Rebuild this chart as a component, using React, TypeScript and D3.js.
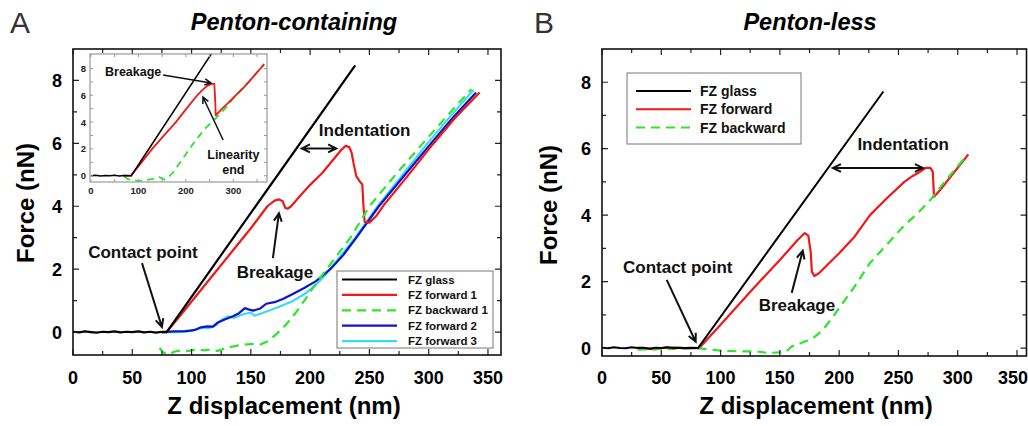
import * as d3 from "d3";

type Pt = [number, number];

const FONT = "'Liberation Sans', Arial, Helvetica, sans-serif";
const NARROW = "'Liberation Sans Narrow', 'Arial Narrow', 'Liberation Sans', Arial, sans-serif";

// ---------- panel A: penton-containing (Z nm, Force nN) ----------
const glassA: Pt[] = [
  [0, 0.01], [5, -0.01], [10, 0.02], [15, 0], [20, -0.02], [25, 0.01], [30, 0], [35, 0.02],
  [40, -0.01], [45, 0.01], [50, 0], [55, 0.02], [60, -0.01], [65, 0.01], [70, -0.02], [75, 0.01],
  [79, 0], [238, 8.48],
];
const forward1A: Pt[] = [
  [75, 0], [79, 0], [90, 0.5], [105, 1.2], [120, 1.9], [135, 2.6], [150, 3.3], [164, 4.0],
  [170, 4.18], [174, 4.22], [177, 4.15], [179, 3.95], [181, 3.92], [184, 4.0], [192, 4.35],
  [200, 4.68], [210, 5.05], [220, 5.5], [226, 5.78], [230, 5.92], [233, 5.88], [235, 5.7],
  [237, 5.3], [239, 4.95], [242, 4.78], [244, 4.7], [245, 4.0], [246, 3.5], [250, 3.48],
  [256, 3.7], [262, 4.03], [282, 4.95], [303, 5.95], [322, 6.8], [343, 7.62],
];
const backward1A: Pt[] = [
  [73, -0.5], [76, -0.65], [80, -0.72], [86, -0.62], [92, -0.58], [98, -0.6], [104, -0.55],
  [110, -0.58], [116, -0.56], [122, -0.6], [130, -0.5], [140, -0.42], [150, -0.38], [158, -0.4],
  [165, -0.28], [172, -0.05], [180, 0.25], [188, 0.62], [196, 1.05], [205, 1.55], [214, 2.0],
  [224, 2.5], [234, 3.0], [250, 4.0], [272, 5.0], [295, 6.0], [315, 6.85], [336, 7.72],
];
const forward2A: Pt[] = [
  [75, 0], [85, 0.02], [95, 0.03], [102, 0.06], [108, 0.15], [113, 0.18], [118, 0.17], [122, 0.3],
  [128, 0.4], [135, 0.5], [140, 0.6], [145, 0.76], [148, 0.72], [152, 0.68], [158, 0.75],
  [163, 0.9], [170, 0.95], [177, 1.05], [185, 1.2], [195, 1.4], [205, 1.62], [217, 2.0],
  [228, 2.45], [239, 3.0], [258, 4.0], [280, 5.0], [302, 6.0], [320, 6.8], [340, 7.62],
];
const forward3A: Pt[] = [
  [74, -0.02], [80, 0], [90, 0], [100, 0.04], [108, 0.12], [115, 0.13], [120, 0.2], [126, 0.4],
  [131, 0.5], [136, 0.45], [142, 0.55], [150, 0.62], [153, 0.52], [158, 0.58], [165, 0.68],
  [175, 0.82], [185, 0.98], [195, 1.2], [205, 1.5], [212, 1.78], [220, 2.15], [238, 3.0],
  [257, 4.0], [278, 5.0], [299, 6.0], [318, 6.85], [338, 7.7],
];

// inset of panel A
const insetGlass: Pt[] = [
  [0, 0], [10, 0.03], [20, -0.02], [30, 0.02], [40, 0], [50, 0.03], [60, -0.02], [70, 0.02],
  [80, 0], [85, 0], [252, 9.0], [262, 9.55],
];
const insetForward: Pt[] = [
  [68, 0], [84, 0], [100, 0.7], [129, 2.0], [155, 3.05], [179, 4.0], [200, 4.95], [224, 6.0],
  [235, 6.4], [245, 6.7], [254, 6.85], [260, 6.85], [262, 5.5], [263, 4.5], [275, 4.95],
  [290, 5.45], [305, 6.0], [320, 6.5], [335, 7.1], [350, 7.7], [365, 8.3],
];
const insetBackward: Pt[] = [
  [70, -0.05], [78, -0.25], [90, -0.35], [100, -0.38], [112, -0.35], [122, -0.3], [135, -0.2],
  [144, -0.12], [150, -0.2], [155, -0.3], [162, -0.15], [172, 0.2], [186, 0.9], [200, 1.6],
  [221, 2.66], [240, 3.5], [263, 4.28], [285, 5.1], [305, 6.0], [335, 7.1], [365, 8.35],
];

// ---------- panel B: penton-less ----------
const glassB: Pt[] = [
  [0, 0.01], [5, -0.01], [10, 0.02], [15, 0], [20, -0.01], [25, 0.02], [30, 0], [35, 0.01],
  [40, -0.02], [45, 0.01], [50, 0], [55, 0.02], [60, -0.01], [65, 0.01], [70, 0], [75, 0.01],
  [81, 0], [237.3, 7.72],
];
const forwardB: Pt[] = [
  [30, 0.01], [40, -0.02], [45, -0.04], [50, 0], [60, 0.02], [70, -0.01], [78, 0], [82, 0],
  [100, 0.7], [127, 1.77], [150, 2.65], [165, 3.25], [171, 3.46], [174, 3.38], [176, 2.9],
  [177, 2.3], [179, 2.17], [183, 2.25], [190, 2.5], [200, 2.85], [213, 3.35], [226, 4.0],
  [240, 4.5], [255, 5.0], [262, 5.18], [268, 5.3], [273, 5.42], [277, 5.42], [279, 5.3],
  [280, 4.55], [285, 4.75], [295, 5.2], [309, 5.83],
];
const backwardB: Pt[] = [
  [30, -0.05], [45, -0.03], [60, -0.02], [75, 0], [85, -0.02], [100, -0.08], [115, -0.1],
  [130, -0.1], [140, -0.15], [150, -0.13], [155, -0.12], [160, 0.05], [168, 0.15], [178, 0.3],
  [185, 0.5], [193, 0.85], [201, 1.25], [213, 1.85], [226, 2.56], [240, 3.1], [254, 3.66],
  [266, 4.05], [277, 4.46], [290, 5.05], [308, 5.81],
];

const legendA = ["FZ glass", "FZ forward 1", "FZ backward 1", "FZ forward 2", "FZ forward 3"];
const legendB = ["FZ glass", "FZ forward", "FZ backward"];
const xTickVals = [0, 50, 100, 150, 200, 250, 300, 350];
const yTickVals = [0, 2, 4, 6, 8];
const insetXTicks = [0, 100, 200, 300];
const insetYTicks = [0, 2, 4, 6, 8];

const C = {
  black: "#000000",
  red: "#f01818",
  green: "#2ee52e",
  blue: "#1212c8",
  cyan: "#36dcf2",
};

type Frame = { left: number; right: number; top: number; bottom: number };

function tickPath(f: Frame, x: any, y: any, xs: number[], ys: number[], len: number) {
  let d = "";
  xs.forEach((v) => {
    const px = x(v);
    d += `M${px},${f.bottom}v${-len}M${px},${f.top}v${len}`;
  });
  ys.forEach((v) => {
    const py = y(v);
    d += `M${f.left},${py}h${len}M${f.right},${py}h${-len}`;
  });
  return d;
}

function arrowPath(x1: number, y1: number, x2: number, y2: number, both = false, size = 9) {
  const head = (ax: number, ay: number, bx: number, by: number) => {
    const ang = Math.atan2(by - ay, bx - ax);
    const a1 = ang + Math.PI - 0.45;
    const a2 = ang + Math.PI + 0.45;
    return `M${bx + size * Math.cos(a1)},${by + size * Math.sin(a1)}L${bx},${by}L${bx + size * Math.cos(a2)},${by + size * Math.sin(a2)}`;
  };
  let d = `M${x1},${y1}L${x2},${y2}` + head(x1, y1, x2, y2);
  if (both) d += head(x2, y2, x1, y1);
  return d;
}

export default function App() {
  // frames (pixels)
  const fA: Frame = { left: 73, right: 501, top: 49, bottom: 355 };
  const fB: Frame = { left: 602, right: 1026.5, top: 49, bottom: 356 };
  const fI: Frame = { left: 90, right: 267, top: 54, bottom: 182 };

  const xA = d3.scaleLinear().domain([0, 361]).range([fA.left, fA.right]);
  const yA = d3.scaleLinear().domain([-0.73, 9]).range([fA.bottom, fA.top]);
  const xB = d3.scaleLinear().domain([0, 358]).range([fB.left, fB.right]);
  const yB = d3.scaleLinear().domain([-0.24, 9]).range([fB.bottom, fB.top]);
  const xI = d3.scaleLinear().domain([-2, 371]).range([fI.left, fI.right]);
  const yI = d3.scaleLinear().domain([-0.47, 9.08]).range([fI.bottom, fI.top]);

  const lineA = d3.line<Pt>().x((d) => xA(d[0])).y((d) => yA(d[1]));
  const lineB = d3.line<Pt>().x((d) => xB(d[0])).y((d) => yB(d[1]));
  const lineI = d3.line<Pt>().x((d) => xI(d[0])).y((d) => yI(d[1]));

  const majX = d3.range(0, 351, 50);
  const minX = d3.range(25, 351, 50);
  const majY = d3.range(0, 9, 2);
  const minY = d3.range(1, 9, 2);

  const seriesA = [
    { data: forward3A, color: C.cyan, dash: undefined },
    { data: forward2A, color: C.blue, dash: undefined },
    { data: forward1A, color: C.red, dash: undefined },
    { data: backward1A, color: C.green, dash: "9 6" },
    { data: glassA, color: C.black, dash: undefined },
  ];
  const legColorsA = [C.black, C.red, C.green, C.blue, C.cyan];
  const legColorsB = [C.black, C.red, C.green];

  const tickFont = { fontFamily: NARROW, fontWeight: 700, fontSize: 18, fill: "#000" } as const;
  const annFont = { fontFamily: FONT, fontWeight: 700, fontSize: 17, fill: "#111" } as const;

  const axisLabels = (f: Frame, x: any, y: any) => (
    <g>
      {xTickVals.map((v) => (
        <text key={"x" + v} x={Math.min(x(v), 1013)} y={384} textAnchor="middle" {...tickFont}>{v}</text>
      ))}
      {yTickVals.map((v) => (
        <text key={"y" + v} x={f.left - 11} y={y(v) + 6.5} textAnchor="end" {...tickFont}>{v}</text>
      ))}
    </g>
  );

  return (
    <svg width={1028} height={426} style={{ display: "block", position: "absolute", left: 0, top: 0, background: "#fff" }}>
      <defs>
        <clipPath id="clipA"><rect x={fA.left} y={fA.top} width={fA.right - fA.left} height={fA.bottom - fA.top} /></clipPath>
        <clipPath id="clipB"><rect x={fB.left} y={fB.top} width={fB.right - fB.left} height={fB.bottom - fB.top} /></clipPath>
        <clipPath id="clipI"><rect x={fI.left} y={fI.top} width={fI.right - fI.left} height={fI.bottom - fI.top} /></clipPath>
      </defs>
      <rect width={1028} height={426} fill="#fff" />

      {/* ===== Panel A ===== */}
      <text x={10} y={33} fontFamily={FONT} fontSize={30} fill="#333">A</text>
      <text x={294} y={30} textAnchor="middle" fontFamily={FONT} fontSize={23.5} fontWeight={700} fontStyle="italic">Penton-containing</text>
      <g clipPath="url(#clipA)">
        {seriesA.map((s, i) => (
          <path key={i} d={lineA(s.data) || ""} fill="none" stroke={s.color} strokeWidth={2.2} strokeDasharray={s.dash} strokeLinejoin="round" />
        ))}
      </g>
      <path d={tickPath(fA, xA, yA, majX, majY, 6) + tickPath(fA, xA, yA, minX, minY, 4)} stroke="#222" strokeWidth={1.2} fill="none" />
      <rect x={fA.left} y={fA.top} width={fA.right - fA.left} height={fA.bottom - fA.top} fill="none" stroke="#111" strokeWidth={1.6} />
      {axisLabels(fA, xA, yA)}
      <text x={284} y={414} textAnchor="middle" fontFamily={FONT} fontSize={24} fontWeight={700}>Z displacement (nm)</text>
      <text transform="translate(33.5,203) rotate(-90)" textAnchor="middle" fontFamily={FONT} fontSize={24} fontWeight={700}>Force (nN)</text>

      {/* annotations A */}
      <text x={xA(59)} y={yA(2.35)} textAnchor="middle" {...annFont}>Contact point</text>
      <path d={arrowPath(xA(58.2), yA(2.19), xA(75), yA(0.16))} stroke="#111" strokeWidth={2} fill="none" />
      <text x={xA(170.3)} y={yA(1.71)} textAnchor="middle" {...annFont}>Breakage</text>
      <path d={arrowPath(xA(168.6), yA(2.35), xA(173.7), yA(3.78))} stroke="#111" strokeWidth={2} fill="none" />
      <text x={xA(246)} y={yA(6.22)} textAnchor="middle" {...annFont}>Indentation</text>
      <path d={arrowPath(xA(193), yA(5.84), xA(222), yA(5.84), true)} stroke="#111" strokeWidth={2} fill="none" />

      {/* legend A */}
      <rect x={337} y={271} width={156} height={77} fill="#fff" stroke="#777" strokeWidth={1} />
      {legendA.map((name, i) => (
        <g key={name}>
          <line x1={342} x2={397} y1={279.5 + i * 15.4} y2={279.5 + i * 15.4} stroke={legColorsA[i]} strokeWidth={2.2} strokeDasharray={i === 2 ? "9 6" : undefined} />
          <text x={408} y={283.5 + i * 15.4} fontFamily={FONT} fontSize={11.5} fontWeight={700} fill="#111">{name}</text>
        </g>
      ))}

      {/* inset */}
      <rect x={fI.left} y={fI.top} width={fI.right - fI.left} height={fI.bottom - fI.top} fill="#fff" />
      <g clipPath="url(#clipI)">
        <path d={lineI(insetBackward) || ""} fill="none" stroke={C.green} strokeWidth={1.8} strokeDasharray="7 5" />
        <path d={lineI(insetForward) || ""} fill="none" stroke={C.red} strokeWidth={1.8} strokeLinejoin="round" />
        <path d={lineI(insetGlass) || ""} fill="none" stroke={C.black} strokeWidth={1.6} />
      </g>
      <path d={tickPath(fI, xI, yI, d3.range(0, 351, 50), d3.range(0, 9, 1), 3)} stroke="#999" strokeWidth={1} fill="none" />
      <rect x={fI.left} y={fI.top} width={fI.right - fI.left} height={fI.bottom - fI.top} fill="none" stroke="#999" strokeWidth={1.2} />
      {insetXTicks.map((v) => (
        <text key={v} x={xI(v)} y={194} textAnchor="middle" fontFamily={FONT} fontSize={9.5} fontWeight={700} fill="#222">{v}</text>
      ))}
      {insetYTicks.map((v) => (
        <text key={v} x={fI.left - 4} y={yI(v) + 3.5} textAnchor="end" fontFamily={FONT} fontSize={9.5} fontWeight={700} fill="#222">{v}</text>
      ))}
      <text x={xI(89)} y={yI(7.44)} textAnchor="middle" fontFamily={FONT} fontSize={12.5} fontWeight={700} fill="#111">Breakage</text>
      <path d={arrowPath(xI(152), yI(7.51), xI(253), yI(6.92), false, 7)} stroke="#111" strokeWidth={1.5} fill="none" />
      <text x={xI(300)} y={yI(1.25)} textAnchor="middle" fontFamily={FONT} fontSize={12.5} fontWeight={700} fill="#111">Linearity</text>
      <text x={xI(300)} y={yI(0.13)} textAnchor="middle" fontFamily={FONT} fontSize={12.5} fontWeight={700} fill="#111">end</text>
      <path d={arrowPath(xI(278.5), yI(2.66), xI(236), yI(5.87), false, 7)} stroke="#111" strokeWidth={1.5} fill="none" />

      {/* ===== Panel B ===== */}
      <text x={534} y={33} fontFamily={FONT} fontSize={30} fill="#333">B</text>
      <text x={810} y={30} textAnchor="middle" fontFamily={FONT} fontSize={23.5} fontWeight={700} fontStyle="italic">Penton-less</text>
      <g clipPath="url(#clipB)">
        <path d={lineB(forwardB) || ""} fill="none" stroke={C.red} strokeWidth={2.2} strokeLinejoin="round" />
        <path d={lineB(backwardB) || ""} fill="none" stroke={C.green} strokeWidth={2.2} strokeDasharray="9 6" />
        <path d={lineB(glassB) || ""} fill="none" stroke={C.black} strokeWidth={2} />
      </g>
      <path d={tickPath(fB, xB, yB, majX, majY, 6) + tickPath(fB, xB, yB, minX, minY, 4)} stroke="#222" strokeWidth={1.2} fill="none" />
      <rect x={fB.left} y={fB.top} width={fB.right - fB.left} height={fB.bottom - fB.top} fill="none" stroke="#111" strokeWidth={1.6} />
      {axisLabels(fB, xB, yB)}
      <text x={816} y={414} textAnchor="middle" fontFamily={FONT} fontSize={24} fontWeight={700}>Z displacement (nm)</text>
      <text transform="translate(556.5,205) rotate(-90)" textAnchor="middle" fontFamily={FONT} fontSize={24} fontWeight={700}>Force (nN)</text>

      <text x={xB(63.9)} y={yB(2.26)} textAnchor="middle" {...annFont}>Contact point</text>
      <path d={arrowPath(xB(54.6), yB(2.05), xB(79), yB(0.19))} stroke="#111" strokeWidth={2} fill="none" />
      <text x={xB(164.4)} y={yB(1.12)} textAnchor="middle" {...annFont}>Breakage</text>
      <path d={arrowPath(xB(160), yB(1.66), xB(169.3), yB(2.93))} stroke="#111" strokeWidth={2} fill="none" />
      <text x={xB(254)} y={yB(5.96)} textAnchor="middle" {...annFont}>Indentation</text>
      <path d={arrowPath(xB(194.7), yB(5.42), xB(270.7), yB(5.42), true)} stroke="#111" strokeWidth={2} fill="none" />

      {/* legend B */}
      <rect x={627} y={73} width={174} height={71} fill="#fff" stroke="#777" strokeWidth={1} />
      {legendB.map((name, i) => (
        <g key={name}>
          <line x1={636} x2={691} y1={91 + i * 18.3} y2={91 + i * 18.3} stroke={legColorsB[i]} strokeWidth={2} strokeDasharray={i === 2 ? "9 6" : undefined} />
          <text x={700} y={96 + i * 18.3} fontFamily={FONT} fontSize={14} fontWeight={700} fill="#111">{name}</text>
        </g>
      ))}
    </svg>
  );
}
